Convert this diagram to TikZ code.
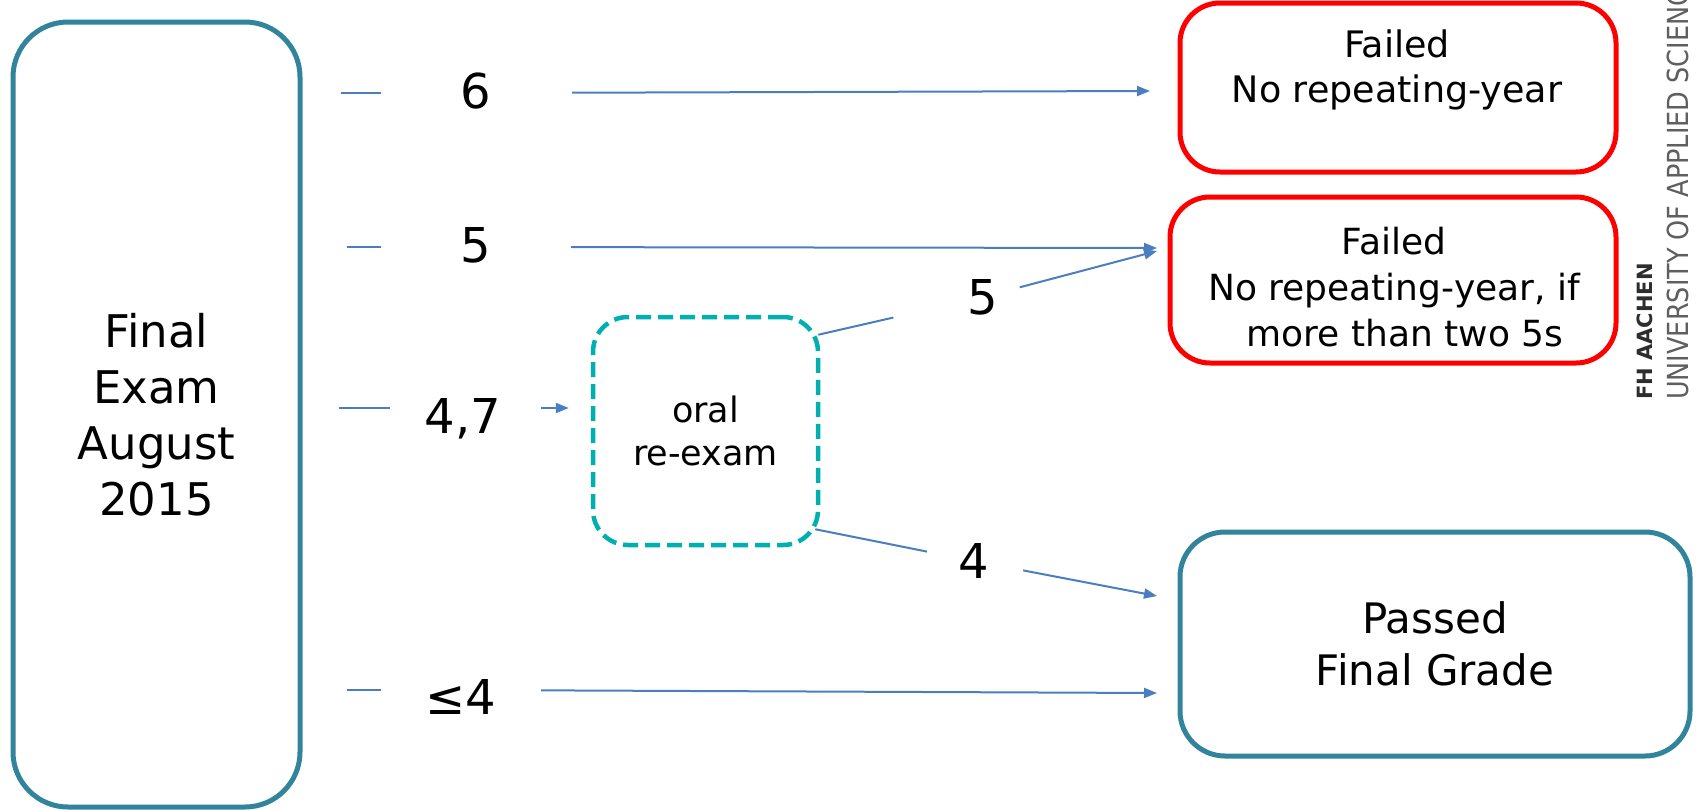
\documentclass[tikz,border=0pt]{standalone}
\usepackage{graphicx}
\usepackage{fontspec}
\setmainfont{DejaVu Sans}
\usetikzlibrary{arrows.meta,calc}
\definecolor{tealbox}{RGB}{49,132,155}
\definecolor{oralc}{RGB}{0,176,176}
\definecolor{redbox}{RGB}{255,0,0}
\definecolor{connc}{RGB}{74,126,193}
\definecolor{logoA}{RGB}{45,45,45}
\definecolor{logoB}{RGB}{95,95,95}
\newcommand\fntFinal{\fontsize{45}{56}\selectfont}
\newcommand\fntLab{\fontsize{48}{48}\selectfont}
\newcommand\fntFail{\fontsize{36.5}{45}\selectfont}
\newcommand\fntFailB{\fontsize{36}{46}\selectfont}
\newcommand\fntPass{\fontsize{42}{52}\selectfont}
\newcommand\fntOral{\fontsize{35}{43}\selectfont}
\begin{document}
\begin{tikzpicture}[x=1pt,y=-1pt,
  tbox/.style={draw=tealbox, line width=5pt, inner sep=0pt, align=center},
  rbox/.style={draw=redbox, line width=5pt, inner sep=0pt, rounded corners=40pt},
  obox/.style={draw=oralc, line width=4.5pt, dash pattern=on 15pt off 7pt, rounded corners=35pt, inner sep=0pt, align=center},
  lab/.style={inner sep=0pt, font=\fntLab},
  cline/.style={draw=connc, line width=2pt},
  carrow/.style={draw=connc, line width=2pt, -{Triangle[length=13pt,width=10pt]}}]
\useasboundingbox (0,0) rectangle (1698,809);
% boxes
\node[tbox, rounded corners=55pt, minimum width=287pt, minimum height=785pt, font=\fntFinal] (fe) at (156.5,414.5) {Final\\Exam\\August\\2015};
\node[rbox, minimum width=436pt, minimum height=169pt] (f1) at (1398,87.5) {};
\node[font=\fntFail, align=center, inner sep=0pt] (t1) at (1397,70) {Failed\\No repeating-year};
\node[rbox, minimum width=446pt, minimum height=166pt] (f2) at (1393,280) {};
\node[font=\fntFailB, align=center, inner sep=0pt] (t2) at (1394,287) {Failed\\No repeating-year, if\\\hspace*{22pt}more than two 5s};
\node[obox, minimum width=225pt, minimum height=228pt, font=\fntOral] (o) at (705.5,431) {oral\\re-exam};
\node[tbox, rounded corners=45pt, minimum width=510pt, minimum height=224pt, font=\fntPass] (p) at (1435,644) {Passed\\Final Grade};
% labels
\node[lab] (l6) at (476,91) {6};
\node[lab] (l5) at (476,245) {5};
\node[lab] (l47) at (463,419) {4,7};
\node[lab] (l4) at (461,697) {≤4};
\node[lab] (l5b) at (983,297) {5};
\node[lab] (l4b) at (974,561) {4};
% row coordinates and free ends
\coordinate (r6) at (0,93);
\coordinate (r5) at (0,247);
\coordinate (r47) at (0,408);
\coordinate (r4) at (0,690);
\coordinate (e6) at (1150,91);
\coordinate (e5) at (1157,248);
\coordinate (e4) at (1157,693);
\coordinate (e5b) at (1157,251);
\coordinate (e4b) at (1157,596);
\coordinate (ou) at ($(o.north east)+(-2,20)$);
\coordinate (ol) at ($(o.south east)+(-5,-18)$);
% connectors
\draw[cline, shorten <=38pt, shorten >=95pt] (fe.east |- r6) -- (l6.center |- r6);
\draw[carrow, shorten <=96pt] (l6.center |- r6) -- (e6);
\draw[cline, shorten <=44pt, shorten >=95pt] (fe.east |- r5) -- (l5.center |- r5);
\draw[carrow, shorten <=95pt] (l5.center |- r5) -- (e5);
\draw[cline, shorten <=36pt, shorten >=73pt] (fe.east |- r47) -- (l47.center |- r47);
\draw[carrow, shorten <=78pt, shorten >=22pt] (l47.center |- r47) -- (o.west |- r47);
\draw[cline, shorten <=44pt, shorten >=80pt] (fe.east |- r4) -- (l4.center |- r4);
\draw[carrow, shorten <=80pt] (l4.center |- r4) -- (e4);
\draw[cline, shorten >=92pt] (ou) -- (l5b.center);
\draw[carrow, shorten <=38pt] (l5b.center) -- (e5b);
\draw[cline, shorten >=48pt] (ol) -- (l4b.center);
\draw[carrow, shorten <=50pt] (l4b.center) -- (e4b);
% logo
\begin{scope}
\clip (0,0) rectangle (1698,809);
\node[rotate=90, anchor=base west, inner sep=0pt, text=logoA, font=\bfseries\fontsize{21}{21}\selectfont] (fh) at (1652,400) {FH AACHEN};
\node[rotate=90, anchor=base west, inner sep=0pt, text=logoB] (uas) at (1688,400) {\scalebox{0.88}[1]{\fontsize{29}{29}\selectfont UNIVERSITY OF APPLIED SCIENCES}};
\end{scope}
\end{tikzpicture}
\end{document}
